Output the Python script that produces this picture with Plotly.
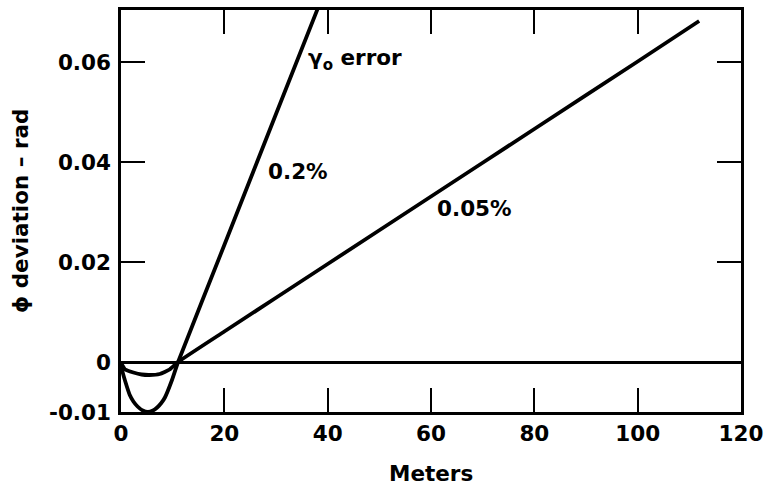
import plotly.graph_objects as go

# ---- data ----
x_02 = [0, 0.3, 0.8, 1.7, 2.4, 3.2, 4.2, 5.2, 6.2, 7.0, 7.8, 8.5, 9.8, 11.05, 20, 30, 39]
y_02 = [-0.0004, -0.0020, -0.0038, -0.0066, -0.0079, -0.0089, -0.0097, -0.0100, -0.0097,
        -0.0091, -0.0082, -0.0071, -0.0038, 0.0, 0.0234, 0.0496, 0.0731]

x_005 = [0, 0.8, 2.4, 4.0, 5.5, 7.5, 9.4, 11.05, 20, 40, 60, 80, 100, 111.9]
y_005 = [-0.0002, -0.0015, -0.0021, -0.0025, -0.0026, -0.0024, -0.0015, 0.0, 0.0061,
         0.0196, 0.0331, 0.0466, 0.0601, 0.0682]

x_ticks = [0, 20, 40, 60, 80, 100, 120]
x_ticktext = ["0", "20", "40", "60", "80", "100", "120"]
y_ticks = [-0.01, 0, 0.02, 0.04, 0.06]
y_ticktext = ["-0.01", "0", "0.02", "0.04", "0.06"]

x_title = "Meters"
y_title = "\u03d5 deviation \u2013 rad"
label_gamma = "\u03b3<sub>o</sub> error"
label_02 = "0.2%"
label_005 = "0.05%"

FONT = "DejaVu Sans, Verdana, sans-serif"
FSIZE = 21.5

fig = go.Figure()
fig.add_trace(go.Scatter(x=x_02, y=y_02, mode="lines",
                         line=dict(color="black", width=3.8, shape="spline", smoothing=0.5),
                         showlegend=False, hoverinfo="skip"))
fig.add_trace(go.Scatter(x=x_005, y=y_005, mode="lines",
                         line=dict(color="black", width=3.8, shape="spline", smoothing=0.4),
                         showlegend=False, hoverinfo="skip"))

axis_common = dict(
    showline=True, mirror="allticks", linecolor="black", linewidth=2.5,
    ticks="inside", ticklen=24, tickwidth=2, tickcolor="black",
    showgrid=False,
    tickfont=dict(family=FONT, size=FSIZE, color="black", weight="bold"),
)

fig.update_layout(
    width=770, height=501,
    margin=dict(l=121, r=26, t=7, b=89),
    paper_bgcolor="white", plot_bgcolor="white",
    xaxis=dict(range=[0, 120], tickmode="array", tickvals=x_ticks, ticktext=x_ticktext,
               zeroline=False, ticklabelstandoff=0, **axis_common),
    yaxis=dict(range=[-0.01, 0.0704], tickmode="array", tickvals=y_ticks, ticktext=y_ticktext,
               zeroline=True, zerolinecolor="black", zerolinewidth=2.5,
               ticklabelstandoff=3, **axis_common),
    showlegend=False,
)

ann_font = dict(family=FONT, size=FSIZE, color="black", weight="bold")
fig.add_annotation(text=x_title, xref="paper", yref="paper", x=0.5, y=-0.153,
                   xanchor="center", yanchor="middle", showarrow=False, font=ann_font)
fig.add_annotation(text=y_title, xref="paper", yref="paper", x=-0.163, y=0.5,
                   xanchor="center", yanchor="middle", textangle=-90, showarrow=False, font=ann_font)
fig.add_annotation(text=label_gamma, xref="x", yref="y", x=35.8, y=0.0606,
                   xanchor="left", yanchor="middle", showarrow=False, font=ann_font)
fig.add_annotation(text=label_02, xref="x", yref="y", x=28.0, y=0.0381,
                   xanchor="left", yanchor="middle", showarrow=False, font=ann_font)
fig.add_annotation(text=label_005, xref="x", yref="y", x=60.8, y=0.0308,
                   xanchor="left", yanchor="middle", showarrow=False, font=ann_font)

fig.write_html("out.html", config={"displayModeBar": False},
               post_script="document.body.style.margin='0';document.body.style.padding='0';")
